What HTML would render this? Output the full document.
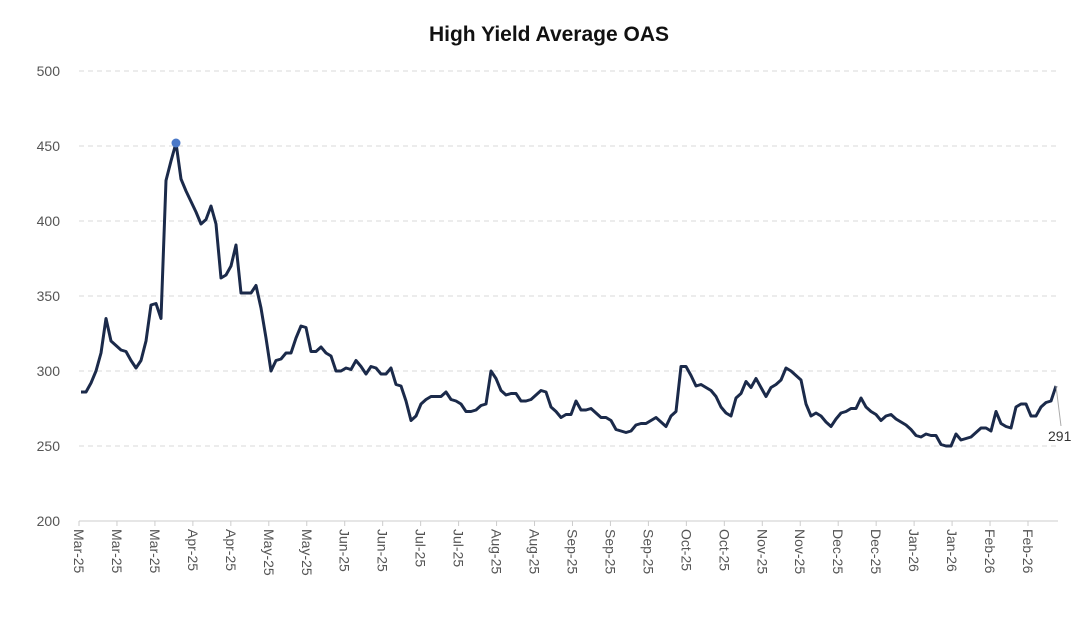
<!DOCTYPE html>
<html><head><meta charset="utf-8"><style>
body{margin:0;background:#fff;}
svg{display:block;font-family:"Liberation Sans",Arial,sans-serif;}
</style></head><body>
<svg id="chart" width="1092" height="630" viewBox="0 0 1092 630"></svg>
<script>
const yTicks=[200,250,300,350,400,450,500];
const xLabels=["Mar-25","Mar-25","Mar-25","Apr-25","Apr-25","May-25","May-25","Jun-25","Jun-25","Jul-25","Jul-25","Aug-25","Aug-25","Sep-25","Sep-25","Sep-25","Oct-25","Oct-25","Nov-25","Nov-25","Dec-25","Dec-25","Jan-26","Jan-26","Feb-26","Feb-26"];
const values=[286,286,292,300,312,335,320,317,314,313,307,302,307,320,344,345,335,427,440,452,428,420,413,406,398,401,410,398,362,364,370,384,352,352,352,357,342,322,300,307,308,312,312,322,330,329,313,313,316,312,310,300,300,302,301,307,303,298,303,302,298,298,302,
291,290,280,267,270,278,281,283,283,283,286,281,280,278,273,273,274,277,278,300,295,287,284,285,285,280,280,281,284,287,286,276,273,269,271,271,280,274,274,275,272,269,269,267,261,260,259,260,264,265,265,267,269,266,263,270,273,303,303,297,290,291,289,287,283,276,272,270,282,285,293,289,295,289,283,289,291,294,302,300,297,294,278,270,272,270,266,263,268,272,273,275,275,282,276,273,271,267,270,271,268,266,264,261,257,256,258,257,257,251,250,250,258,254,255,256,259,262,262,260,273,265,263,262,276,278,278,270,270,276,279,280,290];
const lastLabel="291";
const NS="http://www.w3.org/2000/svg";
const svg=document.getElementById('chart');
const X0=79,X1=1058,Y0=521,Y1=71;
const yScale=v=>Y0-(v-200)/(500-200)*(Y0-Y1);
const xScale=i=>81+i*(1056-81)/(values.length-1);
function mk(t,a){const e=document.createElementNS(NS,t);for(const k in a)e.setAttribute(k,a[k]);svg.appendChild(e);return e;}
let t=mk('text',{x:549,y:41,'text-anchor':'middle','font-size':21,fill:'#111','font-weight':'bold'});


t.textContent="High Yield Average OAS";
yTicks.forEach(v=>{
  const y=yScale(v);
  let l=mk('line',{x1:X0,x2:X1,y1:y,y2:y,stroke:v===200?'#ccc':'#d9d9d9','stroke-dasharray':v===200?'none':'5,4','stroke-width':1});
  
  
  let tx=mk('text',{x:60,y:y+5,'text-anchor':'end','font-size':14,fill:'#555'});
  
  
  tx.textContent=v;
});
xLabels.forEach((s,k)=>{
  const x=79+k*(1028-79)/(xLabels.length-1);
  let tk=mk('line',{x1:x,x2:x,y1:Y0,y2:Y0+5,stroke:'#ccc'});
  
  
  let tx=mk('text',{x:0,y:0,'font-size':14,fill:'#555',transform:`translate(${x-5},${Y0+8}) rotate(90)`});
  
  
  tx.textContent=s;
});
const d=values.map((v,i)=>(i?'L':'M')+xScale(i).toFixed(1)+','+yScale(v).toFixed(1)).join('');
let p=mk('path',{d:d,fill:'none',stroke:'#1b2a4a','stroke-width':3,'stroke-linejoin':'round'});


let mi=values.indexOf(Math.max(...values));
let c=mk('circle',{cx:xScale(mi),cy:yScale(values[mi]),r:4.5,fill:'#4a78c8'});


const li=values.length-1;
let ll=mk('line',{x1:xScale(li),y1:yScale(values[li]),x2:xScale(li)+5,y2:yScale(values[li])+40,stroke:'#aaa','stroke-width':1});


let lt=mk('text',{x:1048,y:yScale(values[li])+55,'font-size':14,fill:'#333'});


lt.textContent=lastLabel;
</script>
</body></html>
